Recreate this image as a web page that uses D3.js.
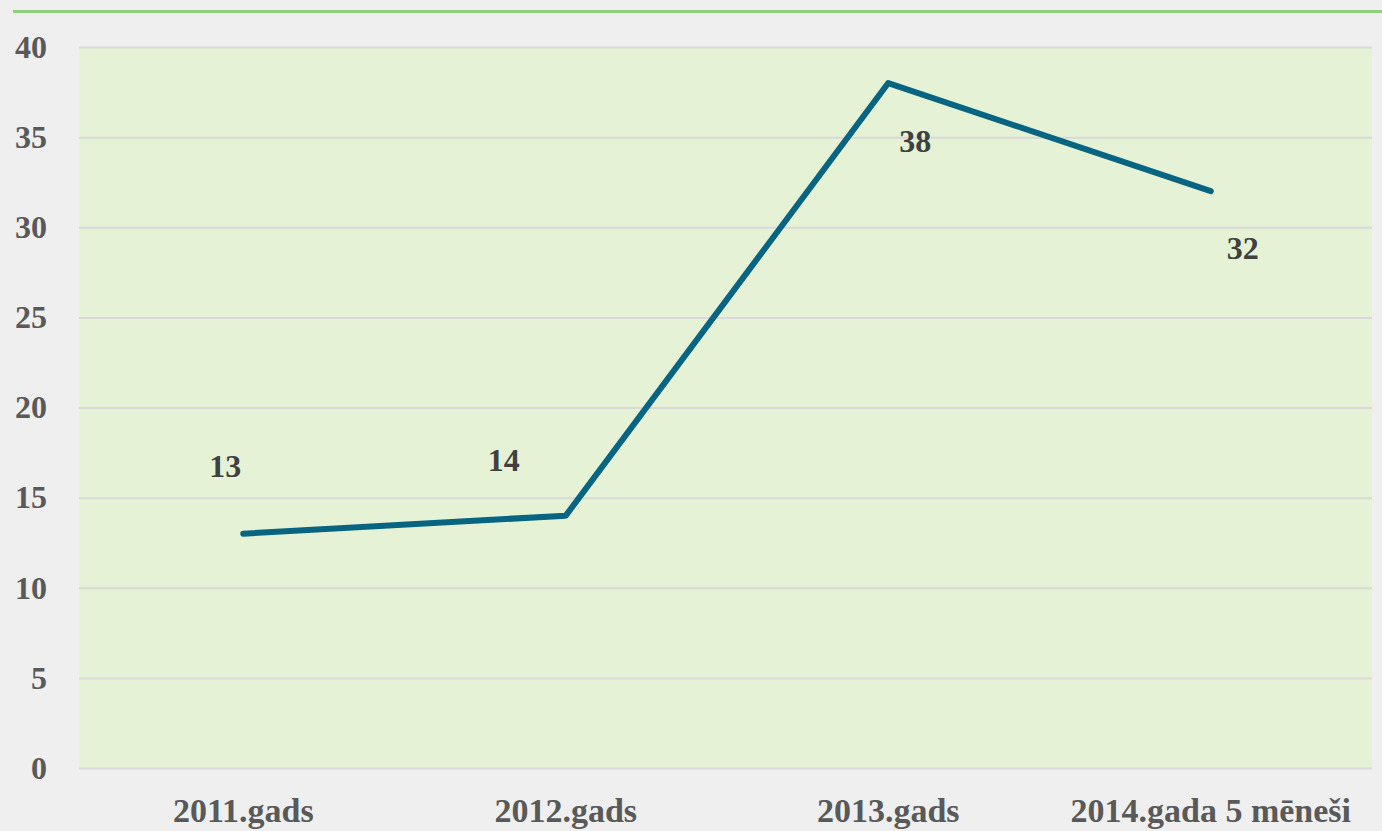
<!DOCTYPE html>
<html>
<head>
<meta charset="utf-8">
<script src="https://cdn.jsdelivr.net/npm/d3@7.9.0/dist/d3.min.js"></script>
<style>
  body { margin: 0; background: #efefef; }
  svg { display: block; }
  .tick text { font-family: "Liberation Serif", serif; font-weight: bold; fill: #595959; }
</style>
</head>
<body>
<svg id="chart" width="1382" height="831"></svg>
<script>
const categories = ['2011.gads', '2012.gads', '2013.gads', '2014.gada 5 mēneši'];
const values = [13, 14, 38, 32];
const yTicks = [0, 5, 10, 15, 20, 25, 30, 35, 40];
// hand-placed label offsets (dx, dy) relative to each point, as in the source
const labelOffsets = [[-18, -68], [-62, -56], [27, 58], [32, 57]];

const svg = d3.select('#chart');
const margin = { top: 47, right: 10, bottom: 63, left: 79 };
const W = 1382, H = 831;

// background + top rule
svg.append('rect').attr('width', W).attr('height', H).attr('fill', '#efefef');
svg.append('line')
  .attr('x1', 13).attr('x2', W).attr('y1', 11.5).attr('y2', 11.5)
  .attr('stroke', '#92d07e').attr('stroke-width', 3);

const x = d3.scaleBand().domain(categories).range([margin.left + 3, W - margin.right]);
const y = d3.scaleLinear().domain([0, 40]).range([H - margin.bottom, margin.top]);

svg.append('rect')
  .attr('x', margin.left).attr('y', y(40))
  .attr('width', W - margin.right - margin.left).attr('height', y(0) - y(40))
  .attr('fill', '#e6f2d5');

const yAxis = svg.append('g')
  .attr('transform', `translate(${margin.left},0)`)
  .call(d3.axisLeft(y).tickValues(yTicks).tickSize(-(W - margin.right - margin.left)).tickPadding(32));
yAxis.select('.domain').remove();
yAxis.selectAll('.tick line').attr('stroke', '#d9d9d9').attr('stroke-width', 2);
yAxis.selectAll('.tick text').attr('font-size', 32).attr('x', -32);

const xAxis = svg.append('g')
  .attr('transform', `translate(0,${y(0)})`)
  .call(d3.axisBottom(x).tickSize(0).tickPadding(30));
xAxis.select('.domain').remove();
xAxis.selectAll('.tick text').attr('font-size', 34);

const line = d3.line()
  .x((d, i) => x(categories[i]) + x.bandwidth() / 2)
  .y(d => y(d));

svg.append('path')
  .datum(values)
  .attr('d', line)
  .attr('fill', 'none')
  .attr('stroke', '#086582')
  .attr('stroke-width', 6)
  .attr('stroke-linecap', 'round')
  .attr('stroke-linejoin', 'round');

svg.append('g').selectAll('text')
  .data(values)
  .join('text')
  .attr('x', (d, i) => x(categories[i]) + x.bandwidth() / 2 + labelOffsets[i][0])
  .attr('y', (d, i) => y(d) + labelOffsets[i][1])
  .attr('text-anchor', 'middle')
  .attr('dominant-baseline', 'central')
  .attr('font-family', '"Liberation Serif", serif')
  .attr('font-weight', 'bold')
  .attr('font-size', 32)
  .attr('fill', '#404040')
  .text(d => d);
</script>
</body>
</html>
